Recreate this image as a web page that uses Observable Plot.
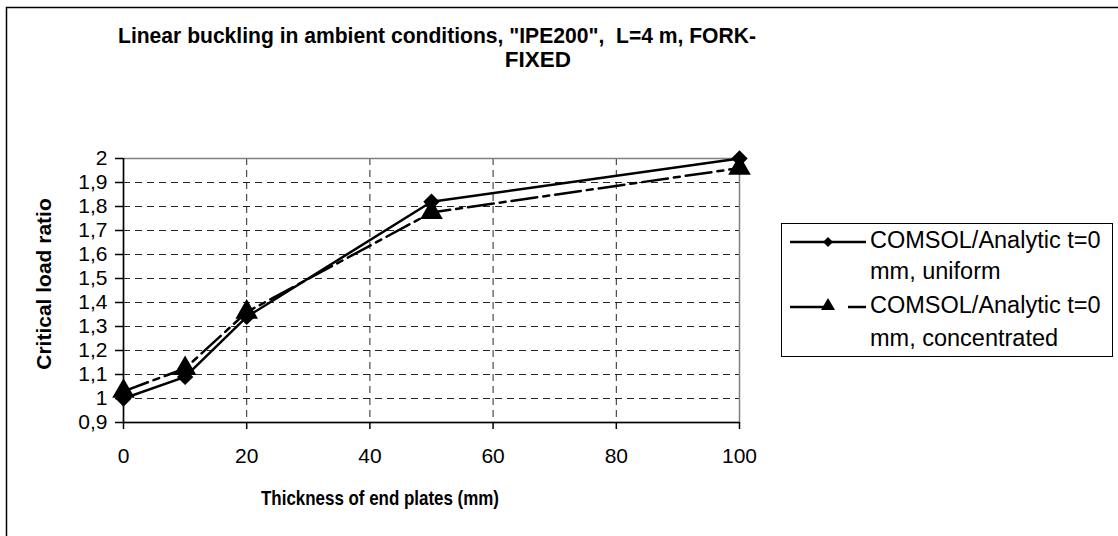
<!DOCTYPE html>
<html>
<head>
<meta charset="utf-8">
<script src="https://cdn.jsdelivr.net/npm/d3@7"></script>
<script src="https://cdn.jsdelivr.net/npm/@observablehq/plot@0.6"></script>
<style>
  html, body { margin: 0; padding: 0; background: #fff; }
  #chart { width: 1118px; height: 536px; }
</style>
</head>
<body>
<div id="chart"></div>
<script>
const titleLines = ["Linear buckling in ambient conditions, \"IPE200\",  L=4 m, FORK-", "FIXED"];
const xTitle = "Thickness of end plates (mm)";
const yTitle = "Critical load ratio";
const seriesNames = ["COMSOL/Analytic t=0 mm, uniform", "COMSOL/Analytic t=0 mm, concentrated"];
const legendLines = [["COMSOL/Analytic t=0", "mm, uniform"], ["COMSOL/Analytic t=0", "mm, concentrated"]];

const thickness = [0, 10, 20, 50, 100];
const uniform = [1.00, 1.09, 1.34, 1.82, 2.00];
const concentrated = [1.03, 1.125, 1.36, 1.775, 1.96];

const xTicks = [0, 20, 40, 60, 80, 100];
const yTicks = [0.9, 1.0, 1.1, 1.2, 1.3, 1.4, 1.5, 1.6, 1.7, 1.8, 1.9, 2.0];

const uniData = thickness.map((t, i) => ({t, v: uniform[i], s: seriesNames[0]}));
const conData = thickness.map((t, i) => ({t, v: concentrated[i], s: seriesNames[1]}));

const font = "Arial, 'Liberation Sans', sans-serif";

const chart = Plot.plot({
  width: 1118,
  height: 536,
  marginLeft: 123,
  marginRight: 379,
  marginTop: 158,
  marginBottom: 114,
  style: {fontFamily: font, fontSize: "21px", background: "#fff", color: "#000", overflow: "visible"},
  x: {domain: [0, 100]},
  y: {domain: [0.9, 2.0]},
  marks: [
    Plot.gridX(xTicks.slice(1, -1), {stroke: "#000", strokeOpacity: 0.85, strokeWidth: 1, strokeDasharray: "7,5"}),
    Plot.gridY(yTicks.slice(1, -1), {stroke: "#000", strokeOpacity: 0.85, strokeWidth: 1, strokeDasharray: "7,5"}),
    Plot.frame({stroke: "#808080", strokeWidth: 1.5}),
    Plot.axisX(xTicks, {tickSize: 7, tickPadding: 19, label: null, fontSize: 21, strokeWidth: 1.5}),
    Plot.axisY(yTicks, {tickSize: 8, tickPadding: 8, label: null, fontSize: 21, strokeWidth: 1.5,
      tickFormat: d => d3.format(".1~f")(d).replace(".", ",")}),
    Plot.ruleX([0], {stroke: "#000", strokeWidth: 1.5}),
    Plot.ruleY([0.9], {stroke: "#000", strokeWidth: 1.5}),
    Plot.line(conData, {x: "t", y: "v", stroke: "#000", strokeWidth: 2.5, strokeDasharray: "26,6,6,6"}),
    Plot.line(uniData, {x: "t", y: "v", stroke: "#000", strokeWidth: 2.5}),
    Plot.dot(uniData, {x: "t", y: "v", symbol: "diamond2", r: 7.4, fill: "#000", stroke: "none"}),
    Plot.dot(conData, {x: "t", y: "v", symbol: "triangle", r: 8.4, fill: "#000", stroke: "none"})
  ]
});

document.getElementById("chart").appendChild(chart);

const svg = d3.select(chart);
svg.selectAll('g[aria-label="x-axis tick label"] text, g[aria-label="y-axis tick label"] text')
  .style("font-size", "21px").style("font-family", font);

// outer chart-area border (left and top edges visible)
svg.append("path")
  .attr("d", "M6.5,540 V7.5 H1125")
  .attr("fill", "none").attr("stroke", "#000").attr("stroke-width", 1.5);

// title
const titleG = svg.append("g").attr("font-family", font).attr("font-weight", "bold")
  .attr("font-size", 22.5).attr("fill", "#000").attr("text-anchor", "middle");
titleG.append("text").attr("x", 437).attr("y", 43).attr("xml:space", "preserve")
  .attr("textLength", 638).attr("lengthAdjust", "spacingAndGlyphs").text(titleLines[0]);
titleG.append("text").attr("x", 538).attr("y", 67).text(titleLines[1]);

// axis titles
svg.append("text").attr("x", 380).attr("y", 505).attr("text-anchor", "middle")
  .attr("font-family", font).attr("font-weight", "bold").attr("font-size", 20.5).attr("fill", "#000")
  .attr("textLength", 238).attr("lengthAdjust", "spacingAndGlyphs").text(xTitle);
svg.append("text").attr("transform", "translate(51,284) rotate(-90)").attr("text-anchor", "middle")
  .attr("font-family", font).attr("font-weight", "bold").attr("font-size", 21).attr("fill", "#000").text(yTitle);

// legend
const lg = svg.append("g").attr("font-family", font).attr("font-size", 23.5).attr("fill", "#000").attr("text-anchor", "start");
lg.append("rect").attr("x", 781.5).attr("y", 223.5).attr("width", 331).attr("height", 133)
  .attr("fill", "#fff").attr("stroke", "#000").attr("stroke-width", 1);
// entry 1
lg.append("line").attr("x1", 790).attr("x2", 866).attr("y1", 242).attr("y2", 242).attr("stroke", "#000").attr("stroke-width", 2.5);
lg.append("path").attr("transform", "translate(828,242)").attr("d", d3.symbol(d3.symbolDiamond2, 64)()).attr("fill", "#000");
// entry 2
lg.append("line").attr("x1", 790).attr("x2", 866).attr("y1", 307).attr("y2", 307).attr("stroke", "#000").attr("stroke-width", 2.5).attr("stroke-dasharray", "35,23,100");
lg.append("path").attr("transform", "translate(828,306)").attr("d", d3.symbol(d3.symbolTriangle, 85)()).attr("fill", "#000");
const baselines = [[248, 279], [313, 346]];
legendLines.forEach((lines, i) => {
  lines.forEach((s, j) => {
    lg.append("text").attr("x", 870).attr("y", baselines[i][j]).text(s);
  });
});
</script>
</body>
</html>
